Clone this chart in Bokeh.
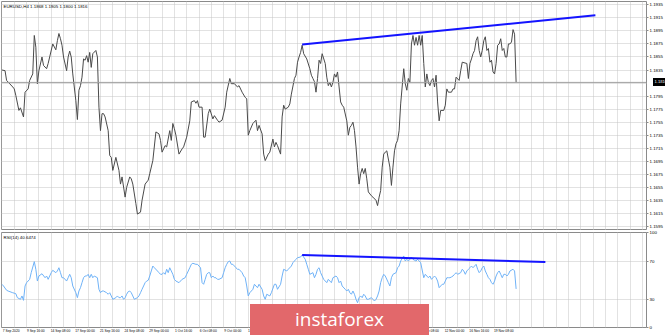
from bokeh.plotting import figure
from bokeh.layouts import column
from bokeh.models import (FixedTicker, Grid, Span, Label, Range1d, Div,
                          PrintfTickFormatter)
from bokeh.embed import file_html
from bokeh.resources import INLINE

# ---------------- data (H4 bars counted from 7 Sep 2020 00:00) ----------------
price_bar = [0, 2, 3, 5, 7, 8, 9, 11, 12, 14, 15, 17, 18, 20, 21, 22, 23, 24, 26, 27,
             29, 30, 31, 33, 35, 36, 37, 38, 39, 40, 42, 43, 44, 45, 46, 48, 49, 50, 51, 52,
             53, 54, 55, 56, 57, 58, 59, 61, 62, 63, 64, 65, 66, 67, 69, 70, 71, 72, 74, 76,
             77, 78, 80, 81, 83, 84, 85, 87, 88, 90, 91, 93, 95, 96, 98, 100, 102, 103, 104, 106,
             107, 109, 110, 111, 112, 113, 115, 117, 118, 120, 122, 123, 125, 126, 127, 128, 130, 131, 132, 134,
             135, 137, 138, 140, 141, 143, 145, 146, 148, 149, 151, 153, 154, 156, 158, 159, 160, 161, 163, 165,
             166, 167, 169, 170, 171, 173, 174, 176, 177, 178, 179, 181, 182, 183, 184, 186, 187, 188, 190, 191,
             192, 193, 194, 195, 196, 198, 200, 201, 202, 203, 204, 205, 206, 207, 208, 210, 211, 212, 213, 214,
             215, 216, 217, 218, 219, 220, 221, 222, 224, 225, 226, 227, 228, 229, 230, 231, 232, 233, 234, 235,
             236, 237, 238, 240, 241, 243, 244, 245, 246, 247, 248, 249, 250, 252, 253, 254, 255, 256, 257, 258,
             259, 261, 262, 263, 264, 265, 266, 267, 268, 269, 270, 271, 272, 273, 274, 275, 276, 277, 278, 279,
             280, 281, 282, 283, 284, 285, 287, 288, 289, 290, 292, 293, 294, 295, 297, 298, 299, 302, 303, 304,
             305, 306, 307, 308, 309, 310, 311, 312, 313, 314, 315, 316, 317, 318, 319, 320, 321, 322, 323, 324,
             325, 326, 327, 328, 329, 330, 331, 332, 333, 334]
price_close = [1.1835, 1.1834, 1.1819, 1.1814, 1.1809, 1.1806, 1.1796, 1.1773, 1.1777, 1.1763,
               1.1801, 1.1806, 1.1819, 1.1829, 1.1888, 1.1870, 1.1814, 1.1834, 1.1855, 1.1842,
               1.1837, 1.1845, 1.1855, 1.1875, 1.1866, 1.1880, 1.1891, 1.1883, 1.1873, 1.1855,
               1.1834, 1.1855, 1.1864, 1.1855, 1.1829, 1.1788, 1.1759, 1.1804, 1.1811, 1.1824,
               1.1852, 1.1850, 1.1857, 1.1847, 1.1862, 1.1839, 1.1860, 1.1865, 1.1855, 1.1778,
               1.1742, 1.1768, 1.1768, 1.1763, 1.1742, 1.1704, 1.1701, 1.1681, 1.1701, 1.1681,
               1.1660, 1.1671, 1.1640, 1.1655, 1.1671, 1.1668, 1.1660, 1.1630, 1.1614, 1.1617,
               1.1635, 1.1660, 1.1666, 1.1676, 1.1696, 1.1740, 1.1737, 1.1727, 1.1709, 1.1719,
               1.1717, 1.1742, 1.1727, 1.1753, 1.1745, 1.1735, 1.1706, 1.1714, 1.1717, 1.1732,
               1.1757, 1.1786, 1.1788, 1.1784, 1.1788, 1.1778, 1.1778, 1.1732, 1.1732, 1.1768,
               1.1775, 1.1760, 1.1765, 1.1758, 1.1755, 1.1758, 1.1778, 1.1801, 1.1822, 1.1814,
               1.1814, 1.1809, 1.1811, 1.1801, 1.1793, 1.1791, 1.1735, 1.1742, 1.1753, 1.1758,
               1.1742, 1.1750, 1.1737, 1.1706, 1.1696, 1.1706, 1.1709, 1.1729, 1.1717, 1.1724,
               1.1719, 1.1706, 1.1763, 1.1781, 1.1775, 1.1778, 1.1783, 1.1798, 1.1822, 1.1827,
               1.1847, 1.1855, 1.1862, 1.1873, 1.1860, 1.1852, 1.1837, 1.1827, 1.1822, 1.1817,
               1.1801, 1.1822, 1.1850, 1.1845, 1.1860, 1.1845, 1.1824, 1.1811, 1.1816, 1.1809,
               1.1816, 1.1829, 1.1824, 1.1832, 1.1809, 1.1786, 1.1781, 1.1778, 1.1757, 1.1735,
               1.1747, 1.1750, 1.1755, 1.1742, 1.1717, 1.1686, 1.1660, 1.1676, 1.1684, 1.1676,
               1.1684, 1.1668, 1.1648, 1.1642, 1.1640, 1.1635, 1.1627, 1.1640, 1.1650, 1.1686,
               1.1706, 1.1709, 1.1711, 1.1686, 1.1658, 1.1686, 1.1711, 1.1722, 1.1727, 1.1742,
               1.1783, 1.1837, 1.1814, 1.1804, 1.1822, 1.1816, 1.1875, 1.1888, 1.1873, 1.1885,
               1.1873, 1.1888, 1.1873, 1.1888, 1.1845, 1.1809, 1.1829, 1.1816, 1.1811, 1.1819,
               1.1822, 1.1809, 1.1827, 1.1786, 1.1757, 1.1773, 1.1773, 1.1781, 1.1806, 1.1801,
               1.1801, 1.1806, 1.1806, 1.1824, 1.1819, 1.1834, 1.1847, 1.1845, 1.1822, 1.1845,
               1.1852, 1.1860, 1.1865, 1.1880, 1.1886, 1.1865, 1.1855, 1.1865, 1.1880, 1.1886,
               1.1865, 1.1868, 1.1847, 1.1850, 1.1832, 1.1829, 1.1845, 1.1873, 1.1875, 1.1883,
               1.1865, 1.1868, 1.1855, 1.1855, 1.1875, 1.1875, 1.1878, 1.1897, 1.1890, 1.1816]

rsi_bar = [0, 1, 3, 4, 7, 9, 10, 12, 13, 14, 15, 16, 18, 19, 21, 22, 23, 24, 26, 28,
           29, 30, 32, 33, 35, 36, 37, 38, 39, 40, 42, 43, 44, 45, 46, 48, 49, 50, 51, 52,
           53, 54, 55, 56, 57, 58, 59, 60, 62, 63, 64, 65, 66, 68, 69, 70, 71, 72, 74, 75,
           76, 77, 78, 79, 80, 81, 82, 83, 84, 85, 86, 88, 89, 90, 91, 92, 93, 94, 95, 96,
           97, 98, 99, 101, 102, 103, 104, 105, 106, 107, 108, 109, 110, 111, 112, 113, 115, 116, 117, 119,
           120, 122, 123, 124, 126, 127, 129, 130, 131, 132, 133, 134, 135, 136, 137, 138, 139, 140, 141, 143,
           144, 145, 146, 147, 148, 149, 150, 151, 152, 153, 154, 156, 157, 158, 159, 160, 161, 163, 164, 166,
           167, 169, 170, 171, 172, 174, 175, 177, 178, 179, 181, 182, 183, 185, 186, 188, 189, 191, 192, 194,
           195, 197, 198, 199, 200, 202, 203, 204, 205, 206, 207, 208, 209, 211, 212, 213, 214, 215, 217, 218,
           219, 220, 221, 223, 224, 225, 226, 227, 228, 229, 230, 231, 232, 233, 234, 235, 236, 237, 238, 240,
           241, 242, 243, 244, 245, 246, 247, 248, 249, 251, 252, 253, 254, 256, 257, 258, 259, 261, 262, 263,
           264, 265, 266, 267, 268, 269, 270, 271, 272, 274, 275, 276, 277, 278, 279, 280, 281, 282, 283, 284,
           285, 286, 287, 288, 289, 290, 291, 292, 293, 294, 295, 296, 298, 299, 300, 301, 302, 303, 304, 305,
           306, 308, 309, 310, 311, 312, 313, 314, 315, 316, 317, 318, 319, 320, 321, 322, 323, 324, 325, 326,
           327, 328, 329, 330, 332, 333, 334]
rsi_val = [45.5, 43.7, 39.2, 38.4, 36.6, 35.6, 31.4, 29.7, 33.2, 28.6, 43.7, 47.2, 50.7, 57.7, 69.3, 61.3, 48.9, 54.2, 56.6, 52.4,
           54.2, 50.7, 57.7, 60.2, 57.7, 59.5, 62.9, 57.7, 52.4, 52.4, 48.9, 52.4, 56.0, 52.4, 43.7, 36.6, 31.4, 38.4, 41.9, 47.2,
           52.4, 54.2, 54.2, 56.0, 52.4, 56.0, 52.4, 54.2, 52.4, 40.2, 36.6, 38.4, 38.4, 36.6, 35.0, 36.6, 33.2, 29.7, 31.4, 33.2,
           31.4, 31.4, 33.2, 29.7, 31.4, 35.0, 37.7, 38.4, 36.6, 33.2, 29.7, 31.4, 33.2, 36.6, 40.2, 43.7, 47.2, 48.9, 49.7, 54.2,
           59.5, 64.7, 62.9, 59.5, 57.7, 56.0, 56.0, 57.7, 56.0, 61.3, 57.7, 62.9, 59.5, 56.0, 50.7, 48.9, 47.2, 48.9, 50.7, 52.4,
           56.0, 62.9, 66.5, 67.6, 66.5, 66.5, 62.9, 47.2, 45.5, 50.7, 56.0, 57.7, 57.7, 52.4, 54.2, 52.4, 52.4, 50.7, 50.7, 52.4,
           57.7, 62.9, 66.5, 69.3, 70.0, 66.5, 66.5, 64.7, 62.9, 61.3, 61.3, 57.7, 54.2, 52.4, 43.7, 33.2, 36.6, 40.2, 45.5, 41.9,
           45.5, 40.2, 33.2, 29.7, 35.0, 33.2, 36.6, 45.5, 45.5, 40.2, 45.5, 54.2, 61.3, 59.5, 61.3, 64.7, 68.2, 71.8, 73.5, 74.2,
           76.3, 71.8, 66.5, 61.3, 56.0, 57.7, 52.4, 56.0, 61.3, 62.9, 57.7, 54.2, 50.7, 47.2, 50.7, 48.9, 47.2, 52.4, 54.2, 52.4,
           47.2, 48.9, 43.7, 40.2, 38.4, 40.2, 36.6, 35.0, 38.4, 35.0, 29.7, 26.1, 31.4, 33.2, 31.4, 35.0, 33.2, 29.7, 29.7, 31.4,
           29.7, 27.9, 29.7, 33.2, 38.4, 47.2, 52.4, 56.0, 54.2, 47.2, 43.7, 52.4, 56.0, 57.7, 62.9, 64.7, 70.0, 75.3, 70.0, 71.8,
           70.0, 71.8, 74.2, 71.8, 70.7, 70.0, 71.8, 70.0, 68.2, 52.4, 56.0, 54.2, 52.4, 54.2, 50.7, 52.4, 54.2, 52.4, 48.9, 41.9,
           43.7, 45.5, 45.5, 48.9, 52.4, 52.4, 52.4, 53.2, 54.2, 56.0, 57.7, 56.0, 57.7, 61.3, 59.5, 56.0, 59.5, 61.3, 62.9, 64.7,
           62.9, 66.5, 61.3, 57.7, 59.5, 62.9, 64.7, 59.5, 56.0, 52.4, 50.7, 47.2, 45.5, 48.9, 54.2, 57.7, 59.5, 56.0, 52.4, 56.0,
           56.0, 54.2, 56.0, 59.5, 61.3, 59.5, 40.6]

# hand-drawn trend lines (bar, value)
price_trend_bar = [195, 385.5]
price_trend_val = [1.1874, 1.1919]
rsi_trend_bar = [195, 353]
rsi_trend_val = [76.3, 69.0]

# axis labels
time_labels = ["7 Sep 2020", "9 Sep 16:00", "14 Sep 08:00", "17 Sep 00:00", "21 Sep 16:00",
               "24 Sep 08:00", "29 Sep 00:00", "1 Oct 16:00", "6 Oct 08:00", "9 Oct 00:00",
               "13 Oct 16:00", "16 Oct 08:00", "21 Oct 00:00", "23 Oct 16:00", "28 Oct 08:00",
               "2 Nov 00:00", "4 Nov 16:00", "9 Nov 08:00", "12 Nov 00:00", "16 Nov 16:00",
               "19 Nov 08:00"]
label_every = 16
price_ticks = [1.1595, 1.1615, 1.1635, 1.1655, 1.1675, 1.1695, 1.1715, 1.1735, 1.1755,
               1.1775, 1.1795, 1.1815, 1.1835, 1.1855, 1.1875, 1.1895, 1.1915, 1.1935]
rsi_ticks = [0, 30, 70, 100]
rsi_levels = [30, 70]

title_text = "EURUSD,H4  1.1868 1.1905 1.1800 1.1816"
rsi_title = "RSI(14) 40.6474"

# ---------------- styling ----------------
FONT = "Liberation Sans"
FS = "4.4px"
FS_X = "3.3px"
GRID_COL = "#c4c4c4"
FRAME_COL = "#8a8a8a"
LOGO_RED = "#e2686b"
x_range = Range1d(-0.3, 418.7)
vgrid_ticks = list(range(0, 420, 8))


def style_right_axis(ax):
    ax.axis_line_color = None
    ax.major_tick_line_color = FRAME_COL
    ax.major_tick_out = 2
    ax.major_tick_in = 0
    ax.minor_tick_line_color = None
    ax.major_label_standoff = 1
    ax.major_label_text_font = FONT
    ax.major_label_text_font_size = FS
    ax.major_label_text_color = "#000000"


last_price = price_close[-1]
# the scale label hidden behind the current-price tag is not drawn
axis_price_ticks = [t for t in price_ticks if abs(t - last_price) > 0.0008]

# ---- main price panel ----
p1 = figure(width=665, height=230, output_backend="svg", toolbar_location=None,
            x_range=x_range, y_range=Range1d(1.15888, 1.19401),
            x_axis_location=None, y_axis_location="right",
            min_border_left=1, min_border_right=17, min_border_top=1, min_border_bottom=0)
p1.grid.visible = False
p1.outline_line_color = FRAME_COL
p1.add_layout(Grid(dimension=0, ticker=FixedTicker(ticks=vgrid_ticks),
                   grid_line_color=GRID_COL, grid_line_dash="1 1"))
p1.add_layout(Grid(dimension=1, ticker=FixedTicker(ticks=price_ticks),
                   grid_line_color=GRID_COL, grid_line_dash="1 1"))
ya = p1.yaxis[0]
ya.ticker = FixedTicker(ticks=axis_price_ticks)
ya.formatter = PrintfTickFormatter(format="%.4f")
style_right_axis(ya)

p1.add_layout(Span(location=last_price, dimension="width", line_color="#a0a0a0", line_width=1))
p1.line(price_bar, price_close, line_color="#4a4a4a", line_width=1)
p1.line(price_trend_bar, price_trend_val, line_color="#1414ff", line_width=2)
p1.add_layout(Label(x=2, y=227, x_units="screen", y_units="screen", text=title_text,
                    text_align="left", text_baseline="top", text_font=FONT,
                    text_font_size=FS, text_color="#000000"))

# ---- RSI panel ----
p2 = figure(width=665, height=105, output_backend="svg", toolbar_location=None,
            x_range=x_range, y_range=Range1d(0, 100), y_axis_location="right",
            min_border_left=1, min_border_right=17, min_border_top=2, min_border_bottom=8)
p2.grid.visible = False
p2.outline_line_color = FRAME_COL
p2.add_layout(Grid(dimension=0, ticker=FixedTicker(ticks=vgrid_ticks),
                   grid_line_color=GRID_COL, grid_line_dash="1 1"))
p2.add_layout(Grid(dimension=1, ticker=FixedTicker(ticks=rsi_levels),
                   grid_line_color=GRID_COL, grid_line_dash="1 1"))
ya2 = p2.yaxis[0]
ya2.ticker = FixedTicker(ticks=rsi_ticks)
style_right_axis(ya2)

xa = p2.xaxis[0]
tick_pos = [i * label_every + 6 for i in range(len(time_labels))]
xa.ticker = FixedTicker(ticks=tick_pos)
xa.major_label_overrides = {t: lab for t, lab in zip(tick_pos, time_labels)}
xa.axis_line_color = None
xa.major_tick_line_color = None
xa.major_tick_out = 0
xa.major_tick_in = 0
xa.minor_tick_line_color = None
xa.major_label_standoff = 1
xa.major_label_text_font = FONT
xa.major_label_text_font_size = FS_X
xa.major_label_text_color = "#000000"

p2.line(rsi_bar, rsi_val, line_color="#6fb2f7", line_width=1)
p2.line(rsi_trend_bar, rsi_trend_val, line_color="#1414ff", line_width=2)
p2.add_layout(Label(x=2, y=93, x_units="screen", y_units="screen", text=rsi_title,
                    text_align="left", text_baseline="top", text_font=FONT,
                    text_font_size=FS, text_color="#000000"))

# overlay layer: current-price tag on the price scale and the watermark logo
overlay_html = (
    '<div style="position:relative;width:665px;height:335px;pointer-events:none">'
    '<svg style="position:absolute;left:648px;top:78px;overflow:hidden" width="17" height="8" '
    'xmlns="http://www.w3.org/2000/svg">'
    '<rect x="0" y="0" width="17" height="8" fill="#000"/>'
    '<text transform="translate(1.5,4.2) scale(0.68)" x="0" y="0" fill="#fff" '
    'font-family="Liberation Sans" font-size="6" '
    f'dominant-baseline="middle">{last_price:.4f}</text></svg>'
    '<div style="position:absolute;left:245px;top:304px;width:179px;height:31px;'
    f'background:{LOGO_RED};color:#fff;font-family:\'Open Sans\';font-size:19px;'
    'text-align:center;line-height:31px">instaforex</div>'
    '</div>'
)
overlay = Div(text=overlay_html, width=665, height=335,
              styles={"margin-top": "-335px", "position": "relative", "z-index": "10",
                      "pointer-events": "none"})

layout = column(p1, p2, overlay, spacing=0)
open("out.html", "w").write(file_html(layout, INLINE))
